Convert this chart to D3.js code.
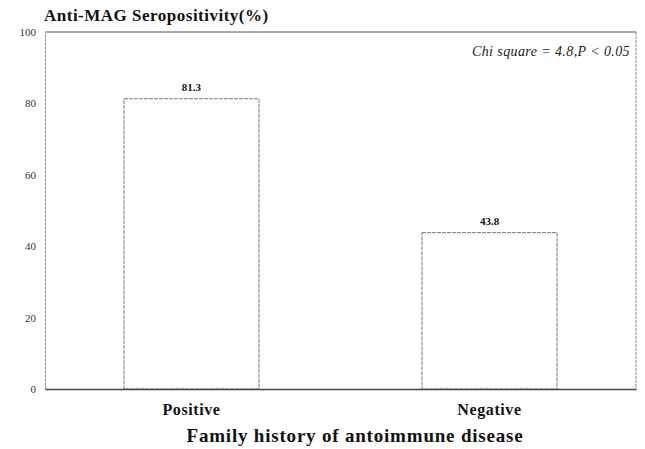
<!DOCTYPE html>
<html>
<head>
<meta charset="utf-8">
<script src="https://cdn.jsdelivr.net/npm/d3@7"></script>
<style>
  body { margin: 0; background: #fff; }
</style>
</head>
<body>
<div id="chart"></div>
<script>
// data
var categories = ["Positive", "Negative"];
var seropositivity = [81.3, 43.8];
var valueLabels = ["81.3", "43.8"];
var yTicks = [0, 20, 40, 60, 80, 100];

var serif = "'Liberation Serif', 'DejaVu Serif', serif";
var width = 645, height = 449;
var margin = { top: 32, right: 9, bottom: 60, left: 45 };

var svg = d3.select("#chart").append("svg")
    .attr("width", width)
    .attr("height", height)
    .style("font-family", serif);

var x = d3.scaleBand()
    .domain(categories)
    .range([margin.left, width - margin.right])
    .paddingInner(0.547)
    .paddingOuter(0.265);

var y = d3.scaleLinear()
    .domain([0, 100])
    .range([height - margin.bottom, margin.top]);

// frame: top and right edges
svg.append("line")
    .attr("x1", margin.left).attr("x2", width - margin.right)
    .attr("y1", y(100)).attr("y2", y(100))
    .attr("stroke", "#555").attr("stroke-width", 1.2);
svg.append("line")
    .attr("x1", width - margin.right).attr("x2", width - margin.right)
    .attr("y1", y(100)).attr("y2", y(0))
    .attr("stroke", "#888").attr("stroke-dasharray", "3,1");

// y axis, no tick marks
var yAxis = svg.append("g")
    .attr("transform", "translate(" + margin.left + ",0)")
    .call(d3.axisLeft(y).tickValues(yTicks).tickSize(0).tickPadding(9));
yAxis.attr("font-family", serif);
yAxis.select(".domain").attr("stroke", "#888").attr("stroke-dasharray", "3,1");
yAxis.selectAll("text")
    .style("font-size", "11px")
    .attr("fill", "#333");

// bars
svg.selectAll("rect.bar")
    .data(seropositivity)
    .join("rect")
    .attr("class", "bar")
    .attr("x", (d, i) => x(categories[i]))
    .attr("y", d => y(d))
    .attr("width", x.bandwidth())
    .attr("height", d => y(0) - y(d))
    .attr("fill", "#fff")
    .attr("stroke", "#777")
    .attr("stroke-dasharray", "4,1");

// value labels
svg.selectAll("text.val")
    .data(seropositivity)
    .join("text")
    .attr("class", "val")
    .attr("x", (d, i) => x(categories[i]) + x.bandwidth() / 2)
    .attr("y", d => y(d) - 8)
    .attr("text-anchor", "middle")
    .style("font-size", "11px")
    .style("font-weight", "bold")
    .attr("fill", "#111")
    .text((d, i) => valueLabels[i]);

// x axis (baseline)
var xAxis = svg.append("g")
    .attr("transform", "translate(0," + y(0) + ")")
    .call(d3.axisBottom(x).tickSize(0).tickPadding(15));
xAxis.attr("font-family", serif);
xAxis.select(".domain").attr("stroke", "#444").attr("stroke-width", 1.3);
xAxis.selectAll("text")
    .style("font-size", "16px")
    .style("font-weight", "bold")
    .style("letter-spacing", "0.6px")
    .attr("fill", "#111");

// titles
svg.append("text")
    .attr("x", margin.left - 1)
    .attr("y", 21)
    .style("font-size", "17px")
    .style("font-weight", "bold")
    .style("letter-spacing", "0.5px")
    .attr("fill", "#111")
    .text("Anti-MAG Seropositivity(%)");

svg.append("text")
    .attr("x", 355)
    .attr("y", 442)
    .attr("text-anchor", "middle")
    .style("font-size", "19px")
    .style("font-weight", "bold")
    .style("letter-spacing", "0.8px")
    .attr("fill", "#111")
    .text("Family history of antoimmune disease");

svg.append("text")
    .attr("x", width - margin.right - 6)
    .attr("y", 56)
    .attr("text-anchor", "end")
    .style("font-size", "14px")
    .style("font-style", "italic")
    .style("letter-spacing", "0.4px")
    .attr("fill", "#222")
    .text("Chi square = 4.8,P < 0.05");
</script>
</body>
</html>
